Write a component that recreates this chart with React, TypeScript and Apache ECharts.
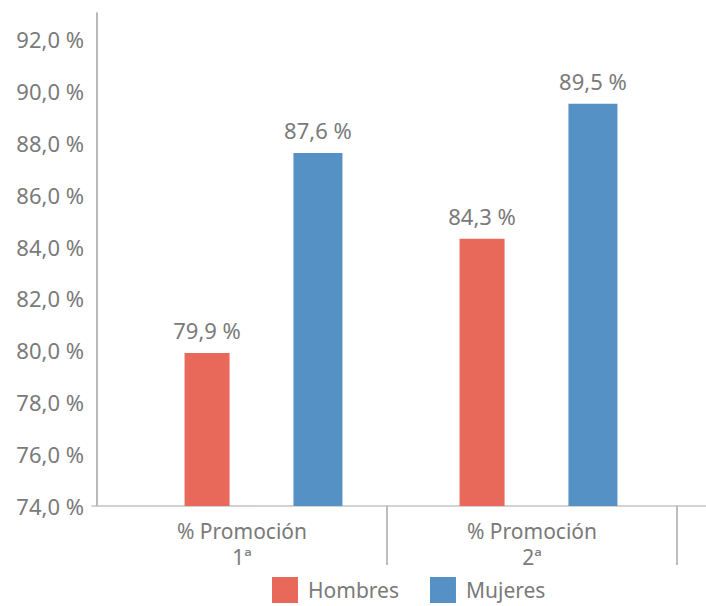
import React, { useEffect, useRef } from "react";
import * as echarts from "echarts";

const categories = ["% Promoción\n1ª", "% Promoción\n2ª"];
const hombres = [79.9, 84.3];
const mujeres = [87.6, 89.5];
const seriesNames = ["Hombres", "Mujeres"];
const yMin = 74;
const yMax = 93;
const yInterval = 2;

const FONT = "'Noto Sans', sans-serif";
const TEXT = "#7a7a7a";

const fmt = (v: number) => v.toFixed(1).replace(".", ",") + " %";

export default function App() {
  const ref = useRef<HTMLDivElement>(null);
  useEffect(() => {
    if (!ref.current) return;
    const chart = echarts.init(ref.current, undefined, { renderer: "svg" });
    const top = 13;
    const bottom = 100;
    const hiddenY = (gridIndex: number) => ({
      type: "value",
      gridIndex,
      min: yMin,
      max: yMax,
      interval: yInterval,
      show: false,
    });
    const barLabel = {
      show: true,
      position: "top",
      distance: 12,
      formatter: (p: any) => fmt(p.value),
      fontSize: 22,
      color: TEXT,
      fontFamily: FONT,
    };
    chart.setOption({
      animation: false,
      backgroundColor: "#ffffff",
      textStyle: { fontFamily: FONT },
      grid: [
        { left: 97, right: 29, top, bottom },
        { left: 126, right: 30, top, bottom },
        { left: 92, right: 0, top, bottom },
        { left: 387, right: 29, top, bottom },
      ],
      legend: {
        data: seriesNames,
        left: 272,
        top: 577,
        padding: 0,
        itemWidth: 26,
        itemHeight: 26,
        itemGap: 31,
        icon: "rect",
        textStyle: {
          fontSize: 21,
          lineHeight: 26,
          color: TEXT,
          fontFamily: FONT,
          padding: [0, 0, 0, 5],
        },
      },
      xAxis: [
        {
          type: "category",
          gridIndex: 0,
          data: categories,
          axisLine: { show: false },
          axisTick: { show: false },
          axisLabel: {
            fontSize: 21,
            lineHeight: 26,
            color: TEXT,
            margin: 12,
            fontFamily: FONT,
          },
        },
        {
          type: "category",
          gridIndex: 1,
          data: categories,
          show: false,
        },
        {
          type: "category",
          gridIndex: 2,
          data: [""],
          axisLine: { show: true, lineStyle: { color: "#c4c4c4", width: 1.5 } },
          axisTick: { show: false },
          axisLabel: { show: false },
        },
        {
          type: "category",
          gridIndex: 3,
          data: [""],
          axisLine: { show: false },
          axisTick: { show: true, length: 59, lineStyle: { color: "#a8a8a8", width: 1.5 } },
          axisLabel: { show: false },
        },
      ],
      yAxis: [
        {
          type: "value",
          gridIndex: 0,
          min: yMin,
          max: yMax,
          interval: yInterval,
          axisLine: { show: true, lineStyle: { color: "#a0a0a0", width: 1.5 } },
          axisTick: { show: false },
          splitLine: { show: false },
          axisLabel: {
            formatter: (v: number) => fmt(v),
            showMaxLabel: false,
            fontSize: 22,
            color: TEXT,
            margin: 13,
            fontFamily: FONT,
          },
        },
        hiddenY(1),
        hiddenY(2),
        hiddenY(3),
      ],
      series: [
        {
          name: seriesNames[0],
          type: "bar",
          xAxisIndex: 1,
          yAxisIndex: 1,
          data: hombres,
          barWidth: 45,
          barGap: "142%",
          itemStyle: { color: "#E8685A" },
          label: barLabel,
        },
        {
          name: seriesNames[1],
          type: "bar",
          xAxisIndex: 1,
          yAxisIndex: 1,
          data: mujeres,
          barWidth: 49,
          barGap: "142%",
          itemStyle: { color: "#5591C5" },
          label: barLabel,
        },
      ],
    });
    return () => chart.dispose();
  }, []);
  return (
    <div
      ref={ref}
      style={{ position: "fixed", left: 0, top: 0, width: 706, height: 606, background: "#fff" }}
    />
  );
}
